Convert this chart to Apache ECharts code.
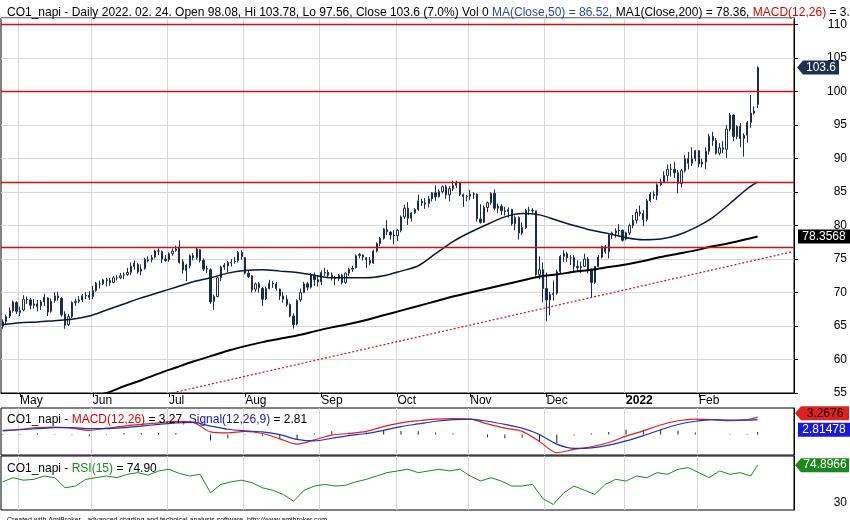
<!DOCTYPE html>
<html><head><meta charset="utf-8">
<script src="https://cdn.jsdelivr.net/npm/echarts@6/dist/echarts.min.js"></script>
<style>html,body{margin:0;padding:0;background:#fff}#c{width:850px;height:520px}</style>
</head><body><div id="c"></div>
<script>
// ---- data ----
const apr21 = [[65.0,65.6,64.6,66.0],[65.7,66.4,65.3,66.7],[66.5,67.3,66.2,67.8],[67.3,68.6,67.0,68.8],[68.5,67.2,66.8,68.7]];
const may21 = [[67.0,67.3,66.5,67.9],[67.4,69.0,67.2,69.6],[69.0,68.9,68.3,69.4],[68.9,68.1,67.5,69.2],[68.1,68.3,67.6,69.0],[68.3,67.9,67.2,68.9],[68.0,68.6,67.4,68.9],[68.6,69.3,68.0,69.8],[69.2,67.1,66.5,69.3],[67.2,68.7,67.0,69.1],[68.8,69.5,68.5,70.0],[69.5,69.2,68.8,70.1],[69.1,66.7,66.4,69.3],[66.8,65.1,64.6,67.2],[65.2,66.4,65.0,66.8],[66.4,68.5,66.2,68.7],[68.5,68.7,68.0,69.1],[68.7,68.9,68.4,69.5],[68.9,69.5,68.6,69.8],[69.5,69.6,69.0,70.1],[69.6,69.3,68.9,70.2]];
const jun21 = [[69.4,70.3,69.0,71.0],[70.3,71.4,70.1,71.6],[71.3,71.3,70.6,71.8],[71.3,71.9,71.1,72.0],[71.8,71.9,70.9,72.2],[71.8,71.5,71.0,72.2],[71.5,72.2,71.4,72.5],[72.2,72.2,71.8,72.6],[72.2,72.5,72.0,72.9],[72.6,72.7,72.0,73.0],[72.7,73.0,72.5,73.7],[73.0,73.9,72.6,74.5],[73.9,74.4,73.4,74.8],[74.2,73.1,72.8,74.4],[73.2,73.5,72.6,74.2],[73.6,74.9,73.4,75.2],[74.9,74.8,74.5,75.4],[74.9,75.2,74.5,75.6],[75.3,76.2,75.1,76.4],[76.2,76.2,75.6,76.6],[76.1,75.0,74.4,76.3],[75.0,74.8,74.6,75.6]];
const jul21 = [[74.9,75.8,74.6,76.0],[75.8,76.2,75.5,76.6],[76.3,76.5,76.1,77.0],[76.8,74.5,74.3,77.8],[74.6,73.4,72.8,75.0],[73.3,74.1,71.7,74.3],[74.0,75.5,73.6,75.7],[75.5,75.2,74.8,75.9],[75.2,76.5,74.9,76.7],[76.4,74.8,74.5,76.5],[74.8,73.5,73.2,75.1],[73.5,73.6,72.9,74.0],[73.4,68.6,68.3,73.6],[68.7,69.4,67.4,69.7],[69.4,72.2,69.3,72.4],[72.2,73.8,71.7,74.0],[73.8,74.1,73.4,74.4],[74.0,74.5,73.0,74.7],[74.4,74.5,73.9,75.0],[74.6,74.7,74.3,75.3],[74.8,76.0,74.5,76.2],[76.0,75.4,74.9,76.3]];
const aug21 = [[75.2,72.9,72.7,75.3],[72.9,72.4,72.2,73.3],[72.5,70.4,70.0,72.6],[70.5,71.3,70.1,71.5],[71.3,70.7,70.0,71.6],[70.6,69.0,68.0,70.8],[69.1,70.6,68.9,70.9],[70.6,71.4,70.5,71.9],[71.4,71.3,70.7,71.7],[71.3,70.6,70.3,71.6],[70.5,69.5,68.9,70.6],[69.5,69.0,68.5,70.1],[69.0,68.2,67.9,69.6],[68.2,66.5,66.3,68.4],[66.5,65.2,64.6,66.9],[65.3,68.8,65.1,69.0],[68.9,70.0,68.6,70.6],[70.0,71.3,69.9,71.6],[71.3,70.8,70.3,71.6],[70.8,72.7,70.6,72.9],[72.5,71.9,71.0,73.0],[71.9,71.6,70.9,72.6]];
const sep21 = [[71.6,73.0,71.1,73.3],[72.9,73.0,72.5,73.7],[73.0,72.6,72.3,73.4],[72.6,72.2,71.8,73.0],[72.2,72.1,71.1,72.5],[72.1,72.6,71.7,72.8],[72.6,71.5,71.2,72.8],[71.5,72.9,71.3,73.0],[72.9,73.5,72.5,73.7],[73.5,73.6,73.1,74.0],[73.7,75.5,73.6,75.7],[75.5,75.7,75.1,75.9],[75.6,75.3,74.8,75.7],[75.2,74.9,73.7,75.3],[74.8,74.4,74.1,75.3],[74.4,76.2,74.3,76.4],[76.2,77.3,76.0,77.5],[77.3,78.1,76.9,78.3],[78.1,79.5,77.9,79.6],[79.4,79.1,78.6,80.8],[79.0,78.6,77.9,79.2],[78.6,78.5,77.2,79.3]];
const oct21 = [[78.5,79.3,77.7,79.5],[79.3,81.3,79.0,81.5],[81.3,82.6,81.0,83.1],[82.6,81.1,80.1,83.5],[81.1,81.9,80.6,82.0],[81.9,82.4,81.7,82.6],[82.4,83.7,82.2,84.6],[83.6,83.4,82.9,84.0],[83.4,83.2,82.5,84.1],[83.3,84.0,82.7,84.4],[84.0,84.9,83.6,85.0],[84.9,84.3,83.7,86.0],[84.3,85.1,84.2,85.4],[85.1,85.8,84.8,86.0],[85.8,84.6,84.0,86.1],[84.6,85.5,83.6,85.9],[85.5,86.0,85.2,86.7],[86.0,86.4,85.6,86.7],[86.4,84.6,84.4,86.4],[84.6,84.3,82.8,84.8],[84.3,84.4,83.6,84.6]];
const nov21 = [[84.4,84.7,83.8,85.3],[84.7,84.7,84.0,85.0],[84.7,81.0,80.6,84.8],[81.0,80.5,80.3,83.2],[80.5,82.7,80.4,83.0],[82.7,83.4,82.0,83.6],[83.4,84.8,83.1,85.0],[84.8,82.6,82.3,85.4],[82.6,82.9,81.9,83.3],[82.9,82.2,81.6,83.2],[82.2,82.1,81.5,82.8],[82.1,82.4,81.2,82.7],[82.4,80.3,80.0,82.5],[80.3,81.2,79.3,81.5],[81.2,78.9,77.9,81.4],[78.9,79.7,78.6,80.5],[79.7,82.3,79.5,82.5],[82.3,82.3,81.6,82.8],[82.3,82.2,81.8,82.6],[82.2,72.7,72.5,82.2],[72.7,73.4,72.0,75.4],[73.4,70.6,68.6,74.5]];
const dec21 = [[70.6,68.9,65.7,73.0],[68.9,69.7,66.6,70.1],[69.7,69.9,68.8,71.8],[69.9,73.1,69.7,73.4],[73.1,75.4,72.9,75.6],[75.4,75.8,74.6,76.3],[75.8,75.2,74.6,76.1],[75.2,75.2,74.1,75.6],[75.2,73.9,73.2,75.6],[73.9,73.7,73.2,74.8],[73.7,73.9,72.9,74.6],[73.9,75.0,73.9,75.8],[75.0,73.5,72.9,75.3],[73.5,71.5,69.3,73.5],[71.5,73.9,71.3,74.0],[73.9,75.3,73.8,75.6],[75.3,76.9,75.1,77.0],[76.9,76.1,75.8,77.1],[76.1,78.6,75.1,78.8],[78.6,78.9,78.0,79.1],[78.9,79.2,78.2,79.6],[79.2,79.3,78.6,80.2],[79.3,77.8,77.6,79.4]];
const jan22 = [[78.0,78.9,77.8,79.1],[78.9,80.0,78.6,80.3],[80.0,80.8,79.6,81.6],[80.8,82.0,80.3,82.5],[82.0,81.8,81.4,83.0],[81.8,80.9,79.9,82.3],[80.9,83.7,80.6,84.0],[83.7,84.7,83.5,85.0],[84.7,84.5,84.0,85.1],[84.5,86.1,83.8,86.3],[86.1,86.5,85.9,87.0],[86.5,87.5,86.5,88.1],[87.5,88.4,86.6,89.1],[88.4,88.4,87.3,89.2],[88.4,87.9,87.1,89.5],[87.9,86.3,84.8,88.3],[86.3,88.2,85.7,88.5],[88.2,90.0,87.9,90.5],[90.0,89.3,88.4,91.0],[89.3,90.0,88.9,91.7],[90.0,91.2,89.6,91.3]];
const feb22 = [[91.2,89.2,88.7,91.2],[89.2,89.5,88.7,90.0],[89.5,91.1,88.4,91.7],[91.1,93.3,90.6,93.7],[93.3,92.7,91.9,94.0],[92.7,90.8,90.6,93.1],[90.8,91.6,90.5,92.3],[91.6,91.4,90.8,92.6],[91.4,94.4,90.1,95.0],[94.4,96.5,94.1,96.8],[96.5,93.3,92.6,96.6],[93.3,94.8,92.9,95.0],[94.8,93.0,91.7,95.3],[93.0,93.5,90.3,93.8],[93.5,95.4,92.4,95.6],[95.4,96.8,94.6,99.5],[96.8,97.1,96.6,97.8],[98.08,103.6,97.56,103.78]];

const sampleIdx = [0,5,10,15,20,25,30,35,40,45,50,55,60,65,70,75,80,85,90,95,100,105,110,115,120,125,130,135,140,145,150,155,160,165,170,175,180,185,190,195,200,205,210,215,218];
const ma50 = [65.2,65.5,65.6,65.8,66.0,66.5,67.4,68.3,69.2,70.0,70.8,71.6,72.2,72.9,73.3,73.4,73.2,73.0,72.6,72.2,72.2,72.2,72.5,73.2,74.0,75.8,77.6,79.0,80.2,81.3,81.8,81.6,80.8,80.0,79.3,78.8,78.2,77.9,78.0,78.6,79.7,81.2,83.3,85.5,86.52];
const ma200 = [50.5,51.2,51.8,52.5,53.3,54.3,55.0,56.0,56.9,57.9,58.8,59.7,60.5,61.3,62.0,62.6,63.1,63.6,64.2,64.8,65.3,65.9,66.6,67.3,68.0,68.7,69.4,70.0,70.6,71.2,71.8,72.4,72.7,73.1,73.4,73.8,74.2,74.7,75.3,75.8,76.3,76.9,77.4,78.0,78.36];
const macd = [0.8,1.0,1.3,1.4,1.2,0.8,1.2,1.6,1.9,2.2,2.5,2.3,0.5,0.3,0.6,0.2,-0.8,-1.8,-1.0,-0.1,0.2,0.6,1.5,2.2,2.6,2.9,3.0,2.9,2.0,1.2,0.6,-1.3,-3.4,-2.8,-2.3,-1.5,-0.3,0.7,1.8,2.6,2.9,2.8,2.6,2.8,3.27];
const signal = [0.7,0.9,1.1,1.3,1.3,1.1,1.1,1.3,1.6,1.9,2.2,2.3,1.6,1.0,0.7,0.5,0.0,-0.9,-1.2,-0.7,-0.2,0.2,0.8,1.5,2.0,2.5,2.8,2.9,2.5,1.9,1.2,0.0,-1.8,-2.6,-2.5,-2.0,-1.2,-0.2,0.9,1.9,2.5,2.8,2.7,2.7,2.81];
const hist = [0.1,0.1,0.2,0.1,-0.1,-0.3,0.1,0.3,0.3,0.3,0.3,0.0,-1.1,-0.7,-0.1,-0.3,-0.8,-0.9,0.2,0.6,0.4,0.4,0.7,0.7,0.6,0.4,0.2,0.0,-0.5,-0.7,-0.6,-1.3,-1.6,-0.2,0.2,0.5,0.9,0.9,0.9,0.7,0.4,0.0,-0.1,0.1,0.46];
const rsiIdx = [0,3,6,9,12,15,18,21,24,27,30,33,36,39,42,45,48,51,54,57,60,63,66,69,72,75,78,81,84,87,90,93,96,99,102,105,108,111,114,117,120,123,126,129,132,135,138,141,144,147,150,153,156,159,162,165,168,171,174,177,180,183,186,189,192,195,198,201,204,207,210,213,216,218];
const rsi = [55,60,57,58,62,60,48,50,58,60,62,60,64,66,63,68,70,65,62,64,42,52,55,57,54,48,45,40,32,45,50,52,50,51,55,58,62,66,68,70,66,68,70,68,70,62,56,60,56,50,50,52,35,28,42,50,45,40,52,58,56,62,60,66,64,70,72,66,60,68,64,66,62,74.9];
const trendIdx = [48, 228];
const trendVal = [54.9, 76.1];
const hLevels = [110, 100, 86.5, 76.7];
const monthNames = ['Jan','Feb','Mar','Apr','May','Jun','Jul','Aug','Sep','Oct','Nov','Dec'];

// ---- build ----
const ohlc = [].concat(apr21,may21,jun21,jul21,aug21,sep21,oct21,nov21,dec21,jan22,feb22);
const dates = [];
let d = new Date(Date.UTC(2021,3,26));
while (dates.length < ohlc.length) { const w=d.getUTCDay(); if (w!==0&&w!==6) dates.push(new Date(d)); d.setUTCDate(d.getUTCDate()+1); }
const cats = dates.map(x=>x.toISOString().slice(0,10));
for (let i=0;i<10;i++) cats.push('pad'+i);
const isMonthStart = (i)=> i>0 && i<dates.length && dates[i].getUTCMonth()!==dates[i-1].getUTCMonth();
const pair = (idx, vals)=> idx.map((x,i)=>[x, vals[i]]);
const F = "'Liberation Sans Narrow','Liberation Sans',Arial,sans-serif";

const xBase = (gi, labels)=>({
  type:'category', gridIndex:gi, data:cats, boundaryGap:true,
  axisLine:{show:labels, lineStyle:{color:'#000'}}, axisTick:{show:labels, interval:(i)=>isMonthStart(i), length:4, lineStyle:{color:'#000'}, alignWithLabel:true},
  axisLabel:{show:labels, interval:(i)=>isMonthStart(i), fontFamily:F, fontSize:12, color:'#000', margin:2, align:'left',
    formatter:(v,i)=>{const dt=dates[i]; if(!dt) return ''; return dt.getUTCMonth()===0 ? '{b|'+dt.getUTCFullYear()+'}' : monthNames[dt.getUTCMonth()];},
    rich:{b:{fontWeight:'bold',fontFamily:F,fontSize:12}}},
  splitLine:{show:true, interval:(i)=>isMonthStart(i), lineStyle:{color:'#d8d8d8'}}
});

const chart = echarts.init(document.getElementById('c'));
chart.setOption({
  animation:false, backgroundColor:'#fff',
  title:[
    {text:'CO1_napi - Daily 2022. 02. 24. Open 98.08, Hi 103.78, Lo 97.56, Close 103.6 (7.0%) Vol 0 {blu|MA(Close,50) = 86.52,} MA1(Close,200) = 78.36, {red|MACD(12,26)} = 3.2',
     left:2, top:2, textStyle:{fontFamily:F, fontSize:12, fontWeight:'normal', color:'#000', rich:{blu:{color:'#1f4e9a',fontFamily:F,fontSize:12},red:{color:'#d00',fontFamily:F,fontSize:12}}}},
    {text:'CO1_napi - {red|MACD(12,26)} = 3.27, {blu|Signal(12,26,9)} = 2.81', left:2, top:409,
     textStyle:{fontFamily:F, fontSize:12, fontWeight:'normal', color:'#000', rich:{blu:{color:'#1a1ab0',fontFamily:F,fontSize:12},red:{color:'#d00',fontFamily:F,fontSize:12}}}},
    {text:'CO1_napi - {grn|RSI(15)} = 74.90', left:2, top:458,
     textStyle:{fontFamily:F, fontSize:12, fontWeight:'normal', color:'#000', rich:{grn:{color:'#1a8a1a',fontFamily:F,fontSize:12}}}},
    {text:'Created with AmiBroker - advanced charting and technical analysis software. http://www.amibroker.com', left:2, top:512,
     textStyle:{fontFamily:F, fontSize:7, fontWeight:'normal', color:'#000'}}
  ],
  grid:[
    {left:1, right:56, top:18, height:375, show:true, borderColor:'#000', borderWidth:1},
    {left:1, right:56, top:408, height:47, show:true, borderColor:'#000', borderWidth:1},
    {left:1, right:56, top:456, height:54, show:true, borderColor:'#000', borderWidth:1}
  ],
  xAxis:[xBase(0,true), xBase(1,false), xBase(2,false)],
  yAxis:[
    {type:'value', gridIndex:0, position:'right', min:55, max:111, interval:5,
     axisLine:{show:true,lineStyle:{color:'#000'}}, axisTick:{show:true,length:4,lineStyle:{color:'#000'}},
     axisLabel:{fontFamily:'Liberation Sans,Arial', fontSize:12, color:'#000', margin:53, align:'right', showMaxLabel:false},
     splitLine:{show:true,lineStyle:{color:'#d8d8d8'}}},
    {type:'value', gridIndex:1, position:'right', min:-3.85, max:5.0,
     axisLine:{show:true,lineStyle:{color:'#000'}}, axisTick:{show:false}, axisLabel:{show:false}, splitLine:{show:false}},
    {type:'value', gridIndex:2, position:'right', min:21.5, max:85.8,
     axisLine:{show:true,lineStyle:{color:'#000'}}, axisTick:{show:false}, axisLabel:{show:false}, splitLine:{show:false}}
  ],
  series:[
    {type:'candlestick', xAxisIndex:0, yAxisIndex:0, data:ohlc, barMaxWidth:3,
     itemStyle:{color:'#ffffff', color0:'#1c2c4c', borderColor:'#1c2c4c', borderColor0:'#1c2c4c', borderWidth:1},
     markLine:{symbol:'none', silent:true, label:{show:false}, lineStyle:{color:'#d01010', type:'solid', width:1.3},
       data: hLevels.map(v=>({yAxis:v}))}},
    {type:'line', xAxisIndex:0, yAxisIndex:0, data:pair(sampleIdx,ma50), symbol:'none', smooth:0.3, lineStyle:{color:'#0c1830', width:1.5}},
    {type:'line', xAxisIndex:0, yAxisIndex:0, data:pair(sampleIdx,ma200), symbol:'none', smooth:0.3, lineStyle:{color:'#000', width:2}},
    {type:'line', xAxisIndex:0, yAxisIndex:0, data:pair(trendIdx,trendVal), symbol:'none', lineStyle:{color:'#d01010', width:1.2, type:[2,2]}},
    {type:'bar', xAxisIndex:1, yAxisIndex:1, data:pair(sampleIdx,hist), barWidth:1, itemStyle:{color:'#222'}},
    {type:'line', xAxisIndex:1, yAxisIndex:1, data:pair(sampleIdx,macd), symbol:'none', smooth:0.3, lineStyle:{color:'#e02020', width:1.2}},
    {type:'line', xAxisIndex:1, yAxisIndex:1, data:pair(sampleIdx,signal), symbol:'none', smooth:0.3, lineStyle:{color:'#2030c0', width:1.2}},
    {type:'line', xAxisIndex:2, yAxisIndex:2, data:pair(rsiIdx,rsi), symbol:'none', lineStyle:{color:'#1a8a1a', width:1}}
  ]
});

// right-side value boxes positioned via the library's scales
function box(yAxisIndex, val, text, bg, fg, arrow, dy, x0, w){
  const y = chart.convertToPixel({yAxisIndex:yAxisIndex}, val) + (dy||0);
  const h = 14;
  const els = [];
  els.push({type:'rect', shape:{x:x0, y:y-h/2, width:w, height:h}, style:{fill:bg}});
  if (arrow) els.push({type:'polygon', shape:{points:[[x0-6,y],[x0,y-h/2],[x0,y+h/2]]}, style:{fill:bg}});
  els.push({type:'text', x:x0+w/2, y:y, style:{text:text, fill:fg, font:"12px 'Liberation Sans Narrow','Liberation Sans',Arial", align:'center', verticalAlign:'middle'}});
  return {type:'group', children:els};
}
const lastClose = ohlc[ohlc.length-1][1];
chart.setOption({graphic:[
  box(0, lastClose, '103.6', '#1c3050', '#fff', true, 0, 803, 36),
  box(0, ma200[ma200.length-1], '78.3568', '#000', '#fff', false, 0, 798, 52),
  box(1, macd[macd.length-1], '3.2676', '#e02020', '#000', true, -4, 801, 48),
  box(1, signal[signal.length-1], '2.81478', '#1a1ad0', '#fff', false, 10, 798, 52),
  box(2, rsi[rsi.length-1], '74.8966', '#1a8a1a', '#fff', true, 0, 801, 48),
  {type:'text', x:847, y:chart.convertToPixel({yAxisIndex:2}, 30), style:{text:'30', fill:'#000', font:"12px 'Liberation Sans',Arial", align:'right', verticalAlign:'middle'}}
]});
</script></body></html>
